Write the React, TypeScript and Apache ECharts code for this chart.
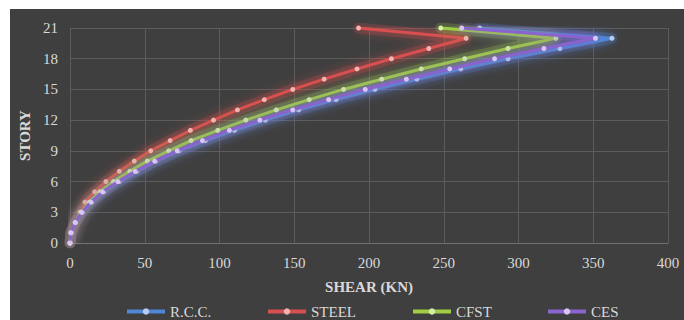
import React, { useEffect, useRef } from "react";
import * as echarts from "echarts";

const stories = [0, 1, 2, 3, 4, 5, 6, 7, 8, 9, 10, 11, 12, 13, 14, 15, 16, 17, 18, 19, 20, 21];
const rcc = [0, 0.9, 3.8, 8.4, 14.5, 22.7, 33, 44.7, 57.5, 73, 90.6, 110, 130.7, 153, 178, 204, 232, 261.4, 293, 327.7, 362.5, 274];
const steel = [0, 0.6, 3.5, 6.7, 10, 16.5, 24, 33, 43, 54, 67, 80.5, 96, 112, 130, 149, 170, 192, 215, 240, 265, 193];
const cfst = [0, 0.6, 3.5, 7.3, 13, 20, 29, 40, 51.7, 66, 81, 98.8, 117.6, 138, 160, 183, 208.5, 235, 264, 293, 325, 248];
const ces = [0, 0.6, 3.5, 7.8, 14, 21.8, 32, 43.6, 56.6, 71.7, 88.6, 106.6, 127, 149, 173, 197.5, 225, 254, 284, 317, 351.5, 262];

const seriesNames = ["R.C.C.", "STEEL", "CFST", "CES"];
const seriesValues = [rcc, steel, cfst, ces];
const lineColors = ["#4f86d6", "#d84f4f", "#9fce45", "#8a64cf"];
const markerColors = ["#b8cdf5", "#f5b3b3", "#d6efa8", "#d9c6f5"];
const legendLefts = [120, 261, 406, 541];

const FONT = "Liberation Serif, Times New Roman, serif";
const TEXT = "#d9d9d9";

export default function App() {
  const ref = useRef<HTMLDivElement>(null);
  useEffect(() => {
    if (!ref.current) return;
    const chart = echarts.init(ref.current, null, { renderer: "svg" });
    const glow = seriesNames.map((name, i) => ({
      name: name + " glow",
      type: "line",
      data: seriesValues[i].map((v, k) => [v, stories[k]]),
      symbol: "none",
      silent: true,
      z: 1,
      lineStyle: { color: lineColors[i], width: 11, opacity: 0.22, cap: "round", join: "round" },
      emphasis: { disabled: true },
    }));
    const series = seriesNames.map((name, i) => ({
      name,
      type: "line",
      data: seriesValues[i].map((v, k) => [v, stories[k]]),
      symbol: "circle",
      symbolSize: 5,
      z: 2 + i,
      lineStyle: {
        color: lineColors[i],
        width: 3,
        shadowColor: lineColors[i],
        shadowBlur: 12,
      },
      itemStyle: { color: markerColors[i], borderWidth: 0 },
      emphasis: { disabled: true },
    }));
    chart.setOption({
      animation: false,
      backgroundColor: "transparent",
      textStyle: { fontFamily: FONT },
      graphic: [
        {
          type: "rect",
          z: -10,
          shape: { x: 10, y: 9, width: 674, height: 311 },
          style: { fill: "#3f3f3f" },
          silent: true,
        },
      ],
      grid: { left: 70, right: 16, top: 28, bottom: 77 },
      xAxis: {
        type: "value",
        min: 0,
        max: 400,
        interval: 50,
        name: "SHEAR (KN)",
        nameLocation: "middle",
        nameGap: 36,
        nameTextStyle: { color: TEXT, fontSize: 15, fontWeight: "bold", fontFamily: FONT },
        axisLine: { show: true, lineStyle: { color: "#707070", width: 1 } },
        axisTick: { show: false },
        axisLabel: { color: TEXT, fontSize: 15, margin: 12, fontFamily: FONT },
        splitLine: { show: true, lineStyle: { color: "#5c5c5c", width: 1 } },
      },
      yAxis: {
        type: "value",
        min: 0,
        max: 21,
        interval: 3,
        name: "STORY",
        nameLocation: "middle",
        nameGap: 33,
        nameRotate: 90,
        nameTextStyle: { color: TEXT, fontSize: 15, fontWeight: "bold", fontFamily: FONT },
        axisLine: { show: false },
        axisTick: { show: false },
        axisLabel: { color: TEXT, fontSize: 15, margin: 12, fontFamily: FONT },
        splitLine: { show: true, lineStyle: { color: "#5c5c5c", width: 1 } },
      },
      legend: seriesNames.map((name, i) => ({
        data: [name],
        left: legendLefts[i],
        top: 299,
        itemWidth: 38,
        itemHeight: 8,
        itemGap: 4,
        lineStyle: { width: 4, shadowBlur: 0 },
        textStyle: { color: TEXT, fontSize: 15, fontFamily: FONT },
        selectedMode: false,
      })),
      series: [...glow, ...series],
    });
    return () => chart.dispose();
  }, []);
  return (
    <div
      ref={ref}
      style={{ position: "absolute", left: 0, top: 0, width: 684, height: 320 }}
    />
  );
}
